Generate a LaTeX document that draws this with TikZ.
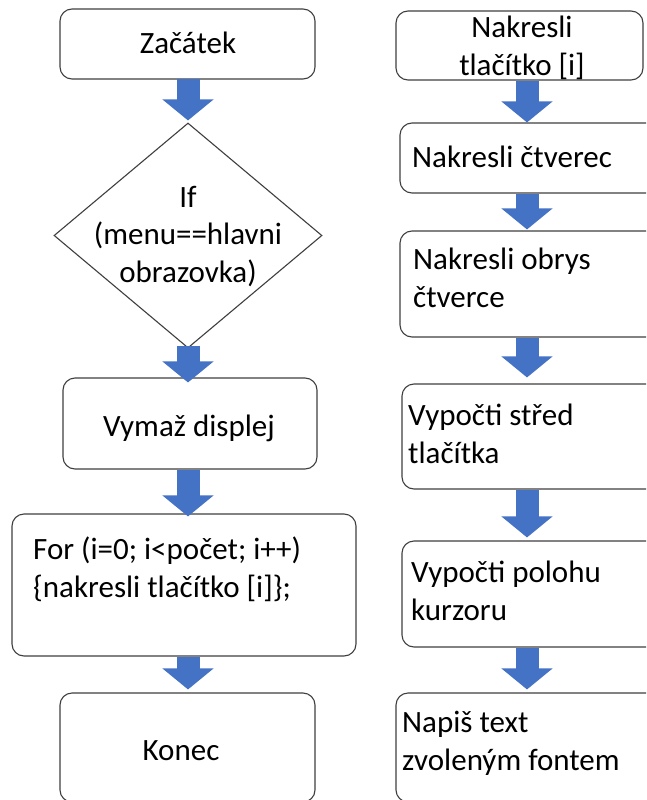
\documentclass[tikz,border=0pt]{standalone}
\usepackage{fontspec}
\setmainfont{Carlito}
\usetikzlibrary{shapes.geometric,arrows.meta}
\definecolor{flowblue}{HTML}{4472C4}
\definecolor{edgegray}{HTML}{3F3F3F}
\tikzset{
  stepbox/.style={draw=edgegray, line width=1.1pt, rounded corners=12pt,
    rectangle, inner sep=0pt, fill=white},
  decide/.style={draw=edgegray, line width=1.1pt, diamond, inner sep=0pt,
    fill=white},
  txt/.style={inner sep=0pt, font=\fontsize{31}{37.5}\selectfont},
  % multi-line texts are placed by the baseline of their last line
  ctxt/.style={txt, align=center, anchor=base},
  ltxt/.style={txt, align=left, anchor=base west},
  flow/.style={draw=flowblue, line width=23pt,
    -{Triangle[width=50pt,length=21pt,fill=flowblue]}},
}
\begin{document}
\begin{tikzpicture}[x=1pt,y=-1pt]
\useasboundingbox (0,0) rectangle (646,800);
\clip (0,0) rectangle (646,800);
\fill[white] (0,0) rectangle (646,800);

% column guides for the block arrows
\coordinate (lcol) at (188,0);
\coordinate (rcol) at (527,0);

% main program
\node[stepbox, minimum width=255pt, minimum height=70pt]  (zac)  at (187.5,44) {};
\node[decide, minimum width=268pt, minimum height=225pt]  (ifd)  at (188,235.5) {};
\node[stepbox, minimum width=254pt, minimum height=91pt]  (vym)  at (190,423.5) {};
\node[stepbox, minimum width=344pt, minimum height=142pt] (forb) at (184,585) {};
\node[stepbox, minimum width=255pt, minimum height=109pt] (kon)  at (187.5,747.5) {};

\node[ctxt] (zact) at (188,54) {Začátek};
\node[ctxt] (ift)  at (188,282) {If\\(menu==hlavni\\obrazovka)};
\node[ctxt] (vymt) at (189,436) {Vymaž displej};
\node[ltxt] (fort) at (33,597) {For (i=0; i<počet; i++)\\\{nakresli tlačítko [i]\};};
\node[ctxt] (kont) at (181,760) {Konec};

% button drawing routine
\node[stepbox, minimum width=247pt, minimum height=69pt]  (r1) at (519.5,45.5) {};
\node[stepbox, minimum width=260pt, minimum height=70pt]  (r2) at (530,158) {};
\node[stepbox, minimum width=260pt, minimum height=106pt] (r3) at (530,284) {};
\node[stepbox, minimum width=258pt, minimum height=105pt] (r4) at (531,436.5) {};
\node[stepbox, minimum width=258pt, minimum height=106pt] (r5) at (531,594) {};
\node[stepbox, minimum width=264pt, minimum height=109pt] (r6) at (528,747.5) {};

\node[ctxt] (r1t) at (522,75)  {Nakresli\\tlačítko [i]};
\node[ltxt] (r2t) at (412,167) {Nakresli čtverec};
\node[ltxt] (r3t) at (413,307) {Nakresli obrys\\čtverce};
\node[ltxt] (r4t) at (408,463) {Vypočti střed\\tlačítka};
\node[ltxt] (r5t) at (411,620) {Vypočti polohu\\kurzoru};
\node[ltxt] (r6t) at (402,770) {Napiš text\\zvoleným fontem};

% block arrows
\draw[flow, shorten <=-1pt, shorten >=2pt] (zac.south -| lcol) -- (ifd.north -| lcol);
\draw[flow, shorten <=-3pt, shorten >=-5pt] (ifd.south -| lcol) -- (vym.north -| lcol);
\draw[flow, shorten >=-3pt] (vym.south -| lcol) -- (forb.north -| lcol);
\draw[flow, shorten >=3pt] (forb.south -| lcol) -- (kon.north -| lcol);

\draw[flow] (r1.south -| rcol) -- (r2.north -| rcol);
\draw[flow, shorten >=1pt] (r2.south -| rcol) -- (r3.north -| rcol);
\draw[flow, shorten >=6pt] (r3.south -| rcol) -- (r4.north -| rcol);
\draw[flow, shorten >=3pt] (r4.south -| rcol) -- (r5.north -| rcol);
\draw[flow, shorten >=3pt] (r5.south -| rcol) -- (r6.north -| rcol);
\end{tikzpicture}
\end{document}
